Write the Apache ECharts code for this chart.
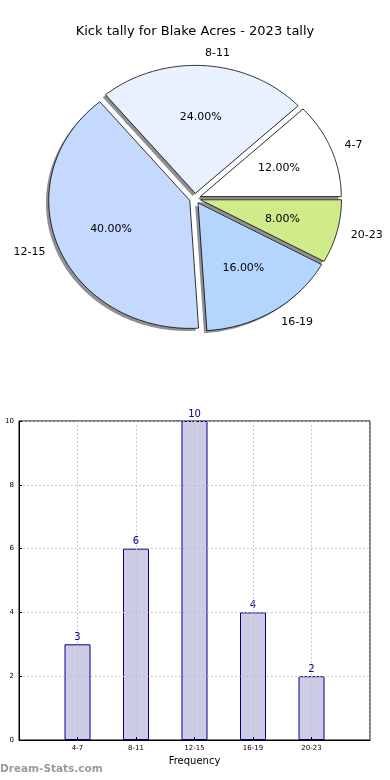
<!DOCTYPE html>
<html>
<head>
<meta charset="utf-8">
<script src="https://cdn.jsdelivr.net/npm/echarts@6/dist/echarts.min.js"></script>
<style>
html,body{margin:0;padding:0;background:#fff;}
#chart{width:390px;height:780px;}
</style>
</head>
<body>
<div id="chart"></div>
<script>
// ---- data ----
var categories = ['4-7', '8-11', '12-15', '16-19', '20-23'];
var counts = [3, 6, 10, 4, 2];
var pieColors = ['#ffffff', '#e9f0fe', '#c5d9fe', '#b4d6fe', '#d0eb8a'];
var yTicks = [0, 2, 4, 6, 8, 10];
var titleText = 'Kick tally for Blake Acres - 2023 tally';

var total = counts.reduce(function (a, b) { return a + b; }, 0);

// pie layout (elliptical, as in the reference)
var PIE = { cx: 195, cy: 198.5, rx: 141, ry: 128, explode: 0.04, pct: 0.6, lab: 1.1, shx: -2.8, shy: 2.6 };

function pieRender(params, api) {
  var i = params.dataIndex;
  var before = 0;
  for (var k = 0; k < i; k++) before += counts[k];
  var a0 = before / total * 2 * Math.PI;
  var a1 = (before + counts[i]) / total * 2 * Math.PI;
  var mid = (a0 + a1) / 2;
  var cx = PIE.cx + PIE.explode * PIE.rx * Math.cos(mid);
  var cy = PIE.cy - PIE.explode * PIE.ry * Math.sin(mid);
  var pts = [[cx, cy]];
  var n = Math.max(8, Math.ceil((a1 - a0) / (Math.PI / 180)));
  for (var j = 0; j <= n; j++) {
    var a = a0 + (a1 - a0) * j / n;
    pts.push([cx + PIE.rx * Math.cos(a), cy - PIE.ry * Math.sin(a)]);
  }
  var shadowPts = pts.map(function (p) { return [p[0] + PIE.shx, p[1] + PIE.shy]; });
  var pctText = (counts[i] / total * 100).toFixed(2) + '%';
  var lx = cx + PIE.lab * PIE.rx * Math.cos(mid);
  var ly = cy - PIE.lab * PIE.ry * Math.sin(mid);
  return {
    type: 'group',
    children: [
      {
        type: 'polygon',
        shape: { points: shadowPts },
        style: { fill: 'rgba(70,70,70,0.6)', stroke: null },
        z2: 0
      },
      {
        type: 'polygon',
        shape: { points: pts },
        style: { fill: pieColors[i], stroke: '#000', lineWidth: 0.8 },
        z2: 5
      },
      {
        type: 'text',
        style: {
          text: pctText,
          x: cx + PIE.pct * PIE.rx * Math.cos(mid),
          y: cy - PIE.pct * PIE.ry * Math.sin(mid),
          align: 'center',
          verticalAlign: 'middle',
          font: '11px "DejaVu Sans"',
          fill: '#000'
        },
        z2: 10
      },
      {
        type: 'text',
        style: {
          text: categories[i],
          x: lx,
          y: ly,
          align: Math.cos(mid) >= 0 ? 'left' : 'right',
          verticalAlign: 'middle',
          font: '11px "DejaVu Sans"',
          fill: '#000'
        },
        z2: 10
      }
    ]
  };
}

var barData = counts.map(function (v, i) { return [i + 1, v]; });

var chart = echarts.init(document.getElementById('chart'), null, { renderer: 'canvas' });
chart.setOption({
  animation: false,
  backgroundColor: '#fff',
  title: {
    text: titleText,
    left: 'center',
    top: 20,
    textStyle: { fontFamily: 'DejaVu Sans', fontSize: 13, fontWeight: 'normal', color: '#000' }
  },
  grid: {
    left: 19, right: 20, top: 421, bottom: 40,
    show: true, borderColor: '#000', borderWidth: 1, backgroundColor: 'transparent'
  },
  xAxis: {
    type: 'value',
    min: 0, max: 6, interval: 1,
    z: 5,
    name: 'Frequency',
    nameLocation: 'middle',
    nameGap: 16,
    nameTextStyle: { fontFamily: 'DejaVu Sans', fontSize: 10, color: '#000' },
    axisLine: { show: true, lineStyle: { color: '#000', width: 1 } },
    axisTick: { show: true, inside: true, length: 3, lineStyle: { color: '#000' } },
    axisLabel: {
      fontFamily: 'DejaVu Sans', fontSize: 7, color: '#000', margin: 5,
      showMinLabel: false, showMaxLabel: false,
      formatter: function (v) { return categories[v - 1] || ''; }
    },
    splitLine: { show: true, lineStyle: { color: '#bbbbbb', type: [1.5, 2.5], width: 1 } }
  },
  yAxis: {
    type: 'value',
    min: yTicks[0], max: yTicks[yTicks.length - 1], interval: 2,
    z: 5,
    axisLine: { show: true, lineStyle: { color: '#000', width: 1 } },
    axisTick: { show: true, inside: true, length: 3, lineStyle: { color: '#000' } },
    axisLabel: { fontFamily: 'DejaVu Sans', fontSize: 7, color: '#000', margin: 5 },
    splitLine: { show: true, lineStyle: { color: '#bbbbbb', type: [1.5, 2.5], width: 1 } }
  },
  series: [
    {
      type: 'custom',
      coordinateSystem: 'none',
      renderItem: pieRender,
      data: counts,
      silent: true
    },
    {
      type: 'bar',
      data: barData,
      barWidth: 26,
      itemStyle: { color: '#ccccE4', borderColor: '#00008b', borderWidth: 1 },
      label: {
        show: true, position: 'top', distance: 2,
        fontFamily: 'DejaVu Sans', fontSize: 10, color: '#00008b'
      }
    }
  ],
  graphic: [
    {
      type: 'text',
      left: 0, top: 764,
      style: { text: 'Dream-Stats.com', font: 'bold 10.5px "DejaVu Sans"', fill: '#9a9a9a' }
    }
  ]
});
</script>
</body>
</html>
